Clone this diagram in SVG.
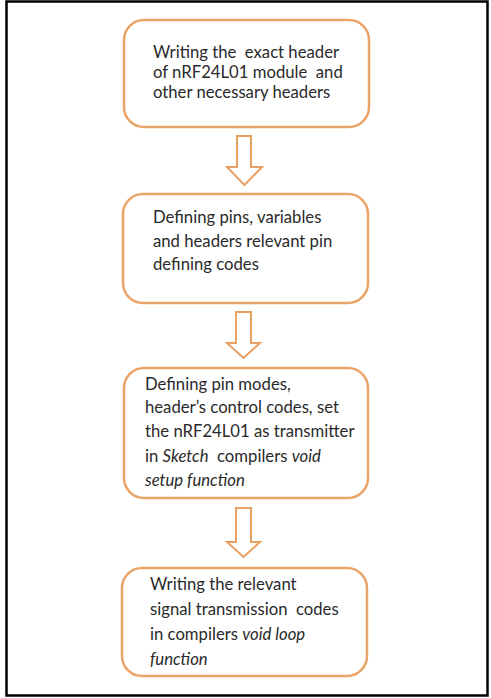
<svg xmlns="http://www.w3.org/2000/svg" width="491" height="698" viewBox="0 0 491 698">
<style>
.box{fill:#fff;stroke:#EBA468;stroke-width:2.5}
.arr{fill:#fff;stroke:#E9A064;stroke-width:2;stroke-linejoin:miter}
.t{font-family:Lato,"Open Sans","Liberation Sans",sans-serif;font-size:16.7px;fill:#2a2a2a;white-space:pre}
.i{font-style:italic}
</style>
<rect x="0" y="0" width="491" height="698" fill="#fff"/>
<rect x="6.5" y="1.5" width="481" height="694" fill="none" stroke="#000" stroke-width="2.5"/>
<g id="connectors">
<path class="arr" d="M237,136 H251 V167 H262 L244.5,185 L227,167 H237 Z"/>
<path class="arr" d="M236,312 H251 V343 H260 L243.5,358 L227,343 H236 Z"/>
<path class="arr" d="M236,508 H251 V542 H260 L243.5,557 L227,542 H236 Z"/>
</g>
<g id="node1">
<rect class="box" x="124" y="20" width="245" height="107" rx="20"/>
<text class="t" x="153" y="58" xml:space="preserve">Writing the  exact header</text>
<text class="t" x="153" y="78" xml:space="preserve">of nRF24L01 module  and</text>
<text class="t" x="153" y="98">other necessary headers</text>
</g>
<g id="node2">
<rect class="box" x="123" y="194" width="245" height="109" rx="20"/>
<text class="t" x="153" y="223">Defining pins, variables</text>
<text class="t" x="153" y="247">and headers relevant pin</text>
<text class="t" x="153" y="270">defining codes</text>
</g>
<g id="node3">
<rect class="box" x="124" y="368" width="244" height="130" rx="20"/>
<text class="t" x="145" y="390">Defining pin modes,</text>
<text class="t" x="145" y="413">header’s control codes, set</text>
<text class="t" x="145" y="437">the nRF24L01 as transmitter</text>
<text class="t" x="145" y="462" xml:space="preserve">in <tspan class="i">Sketch</tspan>  compilers <tspan class="i">void</tspan></text>
<text class="t i" x="145" y="486">setup function</text>
</g>
<g id="node4">
<rect class="box" x="122" y="568" width="245" height="108" rx="20"/>
<text class="t" x="150" y="590">Writing the relevant</text>
<text class="t" x="150" y="615" xml:space="preserve">signal transmission  codes</text>
<text class="t" x="150" y="640">in compilers <tspan class="i">void loop</tspan></text>
<text class="t i" x="150" y="665">function</text>
</g>
</svg>
